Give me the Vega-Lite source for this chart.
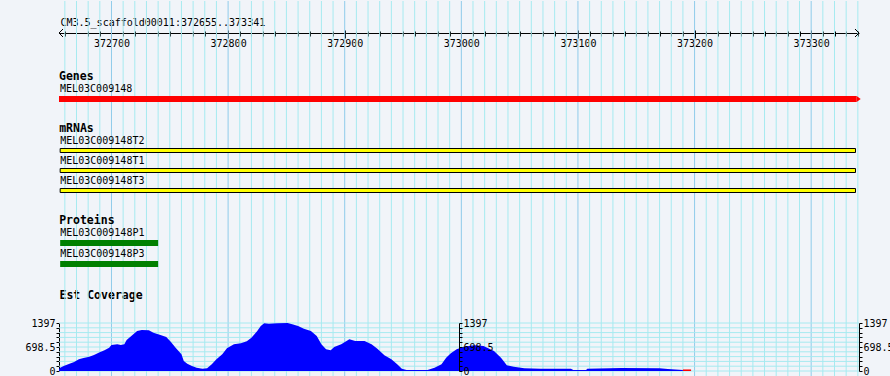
{
  "$schema": "https://vega.github.io/schema/vega-lite/v6.json",
  "background": "#F1F4F9",
  "padding": {"left": 24, "top": 0, "right": 0, "bottom": 0},
  "spacing": 0,
  "bounds": "flush",
  "config": {
    "view": {"stroke": null},
    "font": "DejaVu Sans Mono",
    "text": {"font": "DejaVu Sans Mono", "fontSize": 10, "color": "black"},
    "axis": {"labelFont": "DejaVu Sans Mono", "titleFont": "DejaVu Sans Mono", "labelColor": "black", "titleColor": "black"}
  },
  "datasets": {
    "grid": [
      {"pos": 372660}, {"pos": 372670}, {"pos": 372680}, {"pos": 372690}, {"pos": 372700}, {"pos": 372710}, {"pos": 372720}, {"pos": 372730}, {"pos": 372740}, {"pos": 372750},
      {"pos": 372760}, {"pos": 372770}, {"pos": 372780}, {"pos": 372790}, {"pos": 372800}, {"pos": 372810}, {"pos": 372820}, {"pos": 372830}, {"pos": 372840}, {"pos": 372850},
      {"pos": 372860}, {"pos": 372870}, {"pos": 372880}, {"pos": 372890}, {"pos": 372900}, {"pos": 372910}, {"pos": 372920}, {"pos": 372930}, {"pos": 372940}, {"pos": 372950},
      {"pos": 372960}, {"pos": 372970}, {"pos": 372980}, {"pos": 372990}, {"pos": 373000}, {"pos": 373010}, {"pos": 373020}, {"pos": 373030}, {"pos": 373040}, {"pos": 373050},
      {"pos": 373060}, {"pos": 373070}, {"pos": 373080}, {"pos": 373090}, {"pos": 373100}, {"pos": 373110}, {"pos": 373120}, {"pos": 373130}, {"pos": 373140}, {"pos": 373150},
      {"pos": 373160}, {"pos": 373170}, {"pos": 373180}, {"pos": 373190}, {"pos": 373200}, {"pos": 373210}, {"pos": 373220}, {"pos": 373230}, {"pos": 373240}, {"pos": 373250},
      {"pos": 373260}, {"pos": 373270}, {"pos": 373280}, {"pos": 373290}, {"pos": 373300}, {"pos": 373310}, {"pos": 373320}, {"pos": 373330}, {"pos": 373340}
    ],
    "ygrid": [
      {"v": 0}, {"v": 139.7}, {"v": 279.4}, {"v": 419.1}, {"v": 558.8}, {"v": 698.5}, {"v": 838.2}, {"v": 977.9}, {"v": 1117.6}, {"v": 1257.3}, {"v": 1397}
    ],
    "features": [
      {"track": "Genes", "name": "MEL03C009148", "start": 372655, "end": 373339},
      {"track": "mRNAs", "name": "MEL03C009148T2", "start": 372656, "end": 373338},
      {"track": "mRNAs", "name": "MEL03C009148T1", "start": 372656, "end": 373338},
      {"track": "mRNAs", "name": "MEL03C009148T3", "start": 372656, "end": 373338},
      {"track": "Proteins", "name": "MEL03C009148P1", "start": 372656, "end": 372740},
      {"track": "Proteins", "name": "MEL03C009148P3", "start": 372656, "end": 372740}
    ],
    "coverage": [
      {"pos": 372655, "cov": 49}, {"pos": 372656, "cov": 96}, {"pos": 372659, "cov": 146}, {"pos": 372664, "cov": 212},
      {"pos": 372668, "cov": 262}, {"pos": 372672, "cov": 341}, {"pos": 372676, "cov": 378}, {"pos": 372681, "cov": 416},
      {"pos": 372685, "cov": 466}, {"pos": 372689, "cov": 533}, {"pos": 372694, "cov": 602}, {"pos": 372698, "cov": 678},
      {"pos": 372700, "cov": 757}, {"pos": 372705, "cov": 777}, {"pos": 372708, "cov": 757}, {"pos": 372711, "cov": 777},
      {"pos": 372713, "cov": 902}, {"pos": 372718, "cov": 1048}, {"pos": 372722, "cov": 1164}, {"pos": 372726, "cov": 1193},
      {"pos": 372732, "cov": 1185}, {"pos": 372736, "cov": 1115}, {"pos": 372742, "cov": 1048}, {"pos": 372747, "cov": 990},
      {"pos": 372751, "cov": 844}, {"pos": 372755, "cov": 678}, {"pos": 372760, "cov": 486}, {"pos": 372762, "cov": 291},
      {"pos": 372765, "cov": 212}, {"pos": 372769, "cov": 146}, {"pos": 372773, "cov": 96}, {"pos": 372778, "cov": 67},
      {"pos": 372782, "cov": 79}, {"pos": 372786, "cov": 195}, {"pos": 372790, "cov": 341}, {"pos": 372795, "cov": 486},
      {"pos": 372799, "cov": 661}, {"pos": 372805, "cov": 777}, {"pos": 372811, "cov": 806}, {"pos": 372816, "cov": 864},
      {"pos": 372820, "cov": 969}, {"pos": 372825, "cov": 1164}, {"pos": 372828, "cov": 1310}, {"pos": 372831, "cov": 1390},
      {"pos": 372835, "cov": 1375}, {"pos": 372842, "cov": 1390}, {"pos": 372851, "cov": 1397}, {"pos": 372855, "cov": 1359},
      {"pos": 372860, "cov": 1310}, {"pos": 372865, "cov": 1231}, {"pos": 372871, "cov": 1164}, {"pos": 372876, "cov": 1019},
      {"pos": 372880, "cov": 777}, {"pos": 372884, "cov": 632}, {"pos": 372888, "cov": 602}, {"pos": 372891, "cov": 698},
      {"pos": 372897, "cov": 777}, {"pos": 372904, "cov": 923}, {"pos": 372909, "cov": 873}, {"pos": 372917, "cov": 873},
      {"pos": 372923, "cov": 777}, {"pos": 372928, "cov": 649}, {"pos": 372934, "cov": 457}, {"pos": 372940, "cov": 341},
      {"pos": 372945, "cov": 195}, {"pos": 372949, "cov": 67}, {"pos": 372953, "cov": 29}, {"pos": 372971, "cov": 29},
      {"pos": 372977, "cov": 96}, {"pos": 372983, "cov": 195}, {"pos": 372987, "cov": 387}, {"pos": 372991, "cov": 515},
      {"pos": 372996, "cov": 632}, {"pos": 373002, "cov": 707}, {"pos": 373011, "cov": 748}, {"pos": 373019, "cov": 728},
      {"pos": 373028, "cov": 582}, {"pos": 373034, "cov": 387}, {"pos": 373039, "cov": 166}, {"pos": 373045, "cov": 125},
      {"pos": 373054, "cov": 79}, {"pos": 373068, "cov": 67}, {"pos": 373094, "cov": 67}, {"pos": 373096, "cov": 29},
      {"pos": 373107, "cov": 29}, {"pos": 373108, "cov": 67}, {"pos": 373137, "cov": 87}, {"pos": 373170, "cov": 79},
      {"pos": 373177, "cov": 58}, {"pos": 373190, "cov": 29}
    ]
  },
  "vconcat": [
    {
      "width": 800, "height": 64,
      "layer": [
        {
          "data": {"name": "grid"},
          "mark": {"type": "rule", "strokeWidth": 1},
          "encoding": {
            "x": {"field": "pos", "type": "quantitative", "scale": {"domain": [372655, 373341], "nice": false, "zero": false},
              "axis": {
                "orient": "bottom", "offset": -32,
                "values": [372660,372670,372680,372690,372700,372710,372720,372730,372740,372750,372760,372770,372780,372790,372800,372810,372820,372830,372840,372850,372860,372870,372880,372890,372900,372910,372920,372930,372940,372950,372960,372970,372980,372990,373000,373010,373020,373030,373040,373050,373060,373070,373080,373090,373100,373110,373120,373130,373140,373150,373160,373170,373180,373190,373200,373210,373220,373230,373240,373250,373260,373270,373280,373290,373300,373310,373320,373330,373340],
                "format": "d",
                "labelExpr": "datum.value % 100 === 0 ? datum.label : ''",
                "labelOverlap": false, "labelFlush": false, "labelFontSize": 10, "labelPadding": 0,
                "tickColor": "black", "tickWidth": 1,
                "tickSize": {"condition": {"test": "datum.value % 100 === 0", "value": 5}, "value": 3},
                "domain": true, "domainColor": "black", "domainWidth": 1, "grid": false,
                "title": "CM3.5_scaffold00011:372655..373341",
                "titleX": 1, "titleY": -11, "titleAlign": "left", "titleAnchor": "start", "titleBaseline": "middle",
                "titleFontSize": 10, "titleFontWeight": "normal", "titlePadding": 0
              }
            },
            "color": {"condition": {"test": "datum.pos % 100 === 0", "value": "#8FCBEA"}, "value": "#A6EAF0"}
          }
        },
        {
          "data": {"values": [{"pos": 372655, "dir": "left"}, {"pos": 373341, "dir": "right"}]},
          "mark": {"type": "point", "filled": false, "color": "black", "strokeWidth": 1, "size": 64, "opacity": 1},
          "encoding": {
            "x": {"field": "pos", "type": "quantitative", "scale": {"domain": [372655, 373341], "nice": false, "zero": false},
              "axis": {
                "orient": "bottom", "offset": -32,
                "values": [372660,372670,372680,372690,372700,372710,372720,372730,372740,372750,372760,372770,372780,372790,372800,372810,372820,372830,372840,372850,372860,372870,372880,372890,372900,372910,372920,372930,372940,372950,372960,372970,372980,372990,373000,373010,373020,373030,373040,373050,373060,373070,373080,373090,373100,373110,373120,373130,373140,373150,373160,373170,373180,373190,373200,373210,373220,373230,373240,373250,373260,373270,373280,373290,373300,373310,373320,373330,373340],
                "labels": false, "domain": false, "grid": false, "title": null,
                "tickColor": "black", "tickWidth": 1,
                "tickSize": {"condition": {"test": "datum.value % 100 === 0", "value": -3}, "value": -2}
              }
            },
            "y": {"datum": "ruler", "type": "nominal", "scale": {"type": "point", "domain": ["ruler"]}, "axis": null},
            "shape": {"field": "dir", "type": "nominal", "scale": {"domain": ["left", "right"], "range": ["M1,-1L0,0L1,1", "M-1,-1L0,0L-1,1"]}, "legend": null}
          }
        }
      ],
      "resolve": {"axis": {"x": "independent"}}
    },
    {
      "width": 800, "height": 48,
      "layer": [
        {
          "data": {"name": "grid"},
          "mark": {"type": "rule", "strokeWidth": 1},
          "encoding": {
            "x": {"field": "pos", "type": "quantitative", "scale": {"domain": [372655, 373341], "nice": false, "zero": false}, "axis": null},
            "color": {"condition": {"test": "datum.pos % 100 === 0", "value": "#8FCBEA"}, "value": "#A6EAF0"}
          }
        },
        {
          "data": {"name": "features"},
          "transform": [{"filter": "datum.track === 'Genes'"}, {"aggregate": [{"op": "min", "field": "start", "as": "start"}], "groupby": ["track"]}],
          "mark": {"type": "text", "align": "left", "baseline": "middle", "fontWeight": "bold", "fontSize": 11.5, "yOffset": -2},
          "encoding": {
            "x": {"field": "start", "type": "quantitative", "scale": {"domain": [372655, 373341], "nice": false, "zero": false}, "axis": null},
            "y": {"field": "track", "type": "nominal", "scale": {"type": "band", "domain": ["Genes", "MEL03C009148"], "paddingInner": 0, "paddingOuter": 0.2}, "axis": null},
            "text": {"field": "track"}
          }
        },
        {
          "data": {"name": "features"},
          "transform": [{"filter": "datum.track === 'Genes'"}],
          "mark": {"type": "bar", "height": 6, "color": "#FF0000"},
          "encoding": {
            "x": {"field": "start", "type": "quantitative", "scale": {"domain": [372655, 373341], "nice": false, "zero": false}, "axis": null},
            "x2": {"field": "end"},
            "y": {"field": "name", "type": "nominal", "scale": {"type": "band", "domain": ["Genes", "MEL03C009148"], "paddingInner": 0, "paddingOuter": 0.2}, "axis": null}
          }
        },
        {
          "data": {"name": "features"},
          "transform": [{"filter": "datum.track === 'Genes'"}],
          "mark": {"type": "point", "filled": true, "color": "#FF0000", "opacity": 1, "size": 16, "shape": "M0,-1.5L2,0L0,1.5Z"},
          "encoding": {
            "x": {"field": "end", "type": "quantitative", "scale": {"domain": [372655, 373341], "nice": false, "zero": false}, "axis": null},
            "y": {"field": "name", "type": "nominal", "scale": {"type": "band", "domain": ["Genes", "MEL03C009148"], "paddingInner": 0, "paddingOuter": 0.2}, "axis": null}
          }
        },
        {
          "data": {"name": "features"},
          "transform": [{"filter": "datum.track === 'Genes'"}],
          "mark": {"type": "text", "align": "left", "baseline": "middle", "fontSize": 10, "yOffset": -10, "dx": 1},
          "encoding": {
            "x": {"field": "start", "type": "quantitative", "scale": {"domain": [372655, 373341], "nice": false, "zero": false}, "axis": null},
            "y": {"field": "name", "type": "nominal", "scale": {"type": "band", "domain": ["Genes", "MEL03C009148"], "paddingInner": 0, "paddingOuter": 0.2}, "axis": null},
            "text": {"field": "name"}
          }
        }
      ]
    },
    {
      "width": 800, "height": 95,
      "layer": [
        {
          "data": {"name": "grid"},
          "mark": {"type": "rule", "strokeWidth": 1},
          "encoding": {
            "x": {"field": "pos", "type": "quantitative", "scale": {"domain": [372655, 373341], "nice": false, "zero": false}, "axis": null},
            "color": {"condition": {"test": "datum.pos % 100 === 0", "value": "#8FCBEA"}, "value": "#A6EAF0"}
          }
        },
        {
          "data": {"name": "features"},
          "transform": [{"filter": "datum.track === 'mRNAs'"}, {"aggregate": [{"op": "min", "field": "start", "as": "start"}], "groupby": ["track"]}],
          "mark": {"type": "text", "align": "left", "baseline": "middle", "fontWeight": "bold", "fontSize": 11.5, "yOffset": -2, "dx": -1},
          "encoding": {
            "x": {"field": "start", "type": "quantitative", "scale": {"domain": [372655, 373341], "nice": false, "zero": false}, "axis": null},
            "y": {"field": "track", "type": "nominal", "scale": {"type": "band", "domain": ["mRNAs", "MEL03C009148T2", "MEL03C009148T1", "MEL03C009148T3"], "paddingInner": 0, "paddingOuter": 0.375}, "axis": null},
            "text": {"field": "track"}
          }
        },
        {
          "data": {"name": "features"},
          "transform": [{"filter": "datum.track === 'mRNAs'"}],
          "mark": {"type": "bar", "height": 4, "fill": "#FFFF00", "stroke": "black", "strokeWidth": 1},
          "encoding": {
            "x": {"field": "start", "type": "quantitative", "scale": {"domain": [372655, 373341], "nice": false, "zero": false}, "axis": null},
            "x2": {"field": "end"},
            "y": {"field": "name", "type": "nominal", "scale": {"type": "band", "domain": ["mRNAs", "MEL03C009148T2", "MEL03C009148T1", "MEL03C009148T3"], "paddingInner": 0, "paddingOuter": 0.375}, "axis": null}
          }
        },
        {
          "data": {"name": "features"},
          "transform": [{"filter": "datum.track === 'mRNAs'"}],
          "mark": {"type": "text", "align": "left", "baseline": "middle", "fontSize": 10, "yOffset": -9.5, "dx": 0},
          "encoding": {
            "x": {"field": "start", "type": "quantitative", "scale": {"domain": [372655, 373341], "nice": false, "zero": false}, "axis": null},
            "y": {"field": "name", "type": "nominal", "scale": {"type": "band", "domain": ["mRNAs", "MEL03C009148T2", "MEL03C009148T1", "MEL03C009148T3"], "paddingInner": 0, "paddingOuter": 0.375}, "axis": null},
            "text": {"field": "name"}
          }
        }
      ]
    },
    {
      "width": 800, "height": 70,
      "layer": [
        {
          "data": {"name": "grid"},
          "mark": {"type": "rule", "strokeWidth": 1},
          "encoding": {
            "x": {"field": "pos", "type": "quantitative", "scale": {"domain": [372655, 373341], "nice": false, "zero": false}, "axis": null},
            "color": {"condition": {"test": "datum.pos % 100 === 0", "value": "#8FCBEA"}, "value": "#A6EAF0"}
          }
        },
        {
          "data": {"name": "features"},
          "transform": [{"filter": "datum.track === 'Proteins'"}, {"aggregate": [{"op": "min", "field": "start", "as": "start"}], "groupby": ["track"]}],
          "mark": {"type": "text", "align": "left", "baseline": "middle", "fontWeight": "bold", "fontSize": 11.5, "yOffset": -1, "dx": -1},
          "encoding": {
            "x": {"field": "start", "type": "quantitative", "scale": {"domain": [372655, 373341], "nice": false, "zero": false}, "axis": null},
            "y": {"field": "track", "type": "nominal", "scale": {"type": "band", "domain": ["Proteins", "MEL03C009148P1", "MEL03C009148P3"], "paddingInner": 0, "paddingOuter": 0.16667}, "axis": null},
            "text": {"field": "track"}
          }
        },
        {
          "data": {"name": "features"},
          "transform": [{"filter": "datum.track === 'Proteins'"}],
          "mark": {"type": "bar", "height": 6, "color": "#008000"},
          "encoding": {
            "x": {"field": "start", "type": "quantitative", "scale": {"domain": [372655, 373341], "nice": false, "zero": false}, "axis": null},
            "x2": {"field": "end"},
            "y": {"field": "name", "type": "nominal", "scale": {"type": "band", "domain": ["Proteins", "MEL03C009148P1", "MEL03C009148P3"], "paddingInner": 0, "paddingOuter": 0.16667}, "axis": null}
          }
        },
        {
          "data": {"name": "features"},
          "transform": [{"filter": "datum.track === 'Proteins'"}],
          "mark": {"type": "text", "align": "left", "baseline": "middle", "fontSize": 10, "yOffset": -10, "dx": 0},
          "encoding": {
            "x": {"field": "start", "type": "quantitative", "scale": {"domain": [372655, 373341], "nice": false, "zero": false}, "axis": null},
            "y": {"field": "name", "type": "nominal", "scale": {"type": "band", "domain": ["Proteins", "MEL03C009148P1", "MEL03C009148P3"], "paddingInner": 0, "paddingOuter": 0.16667}, "axis": null},
            "text": {"field": "name"}
          }
        }
      ]
    },
    {
      "width": 800, "height": 99,
      "layer": [
        {
          "data": {"name": "grid"},
          "mark": {"type": "rule", "strokeWidth": 1},
          "encoding": {
            "x": {"field": "pos", "type": "quantitative", "scale": {"domain": [372655, 373341], "nice": false, "zero": false},
              "axis": {"orient": "top", "offset": -17, "domain": false, "ticks": false, "labels": false, "grid": false,
                "title": "Est Coverage", "titleX": 0, "titleY": 0, "titleAlign": "left", "titleAnchor": "start", "titleBaseline": "middle",
                "titleFontWeight": "bold", "titleFontSize": 11.5, "titlePadding": 0}
            },
            "color": {"condition": {"test": "datum.pos % 100 === 0", "value": "#8FCBEA"}, "value": "#A6EAF0"}
          }
        },
        {
          "data": {"name": "ygrid"},
          "mark": {"type": "rule", "strokeWidth": 1, "color": "#A6EAF0"},
          "encoding": {
            "y": {"field": "v", "type": "quantitative", "scale": {"domain": [0, 1397], "range": [93, 45], "nice": false, "zero": true},
              "axis": {"orient": "right", "offset": -400, "zindex": 1, "values": [0, 139.7, 279.4, 419.1, 558.8, 698.5, 838.2, 977.9, 1117.6, 1257.3, 1397],
                "labelExpr": "indexof([0, 698.5, 1397], datum.value) >= 0 ? '' + datum.value : ''",
                "labelOverlap": false, "labelFontSize": 10, "labelPadding": 1, "labelBaseline": "middle", "tickSize": 3, "tickColor": "black", "domainColor": "black", "grid": false, "title": null}
            }
          }
        },
        {
          "data": {"name": "coverage"},
          "mark": {"type": "area", "color": "#0000FF", "interpolate": "linear"},
          "encoding": {
            "x": {"field": "pos", "type": "quantitative", "scale": {"domain": [372655, 373341], "nice": false, "zero": false}, "axis": null},
            "y": {"field": "cov", "type": "quantitative", "scale": {"domain": [0, 1397], "range": [93, 45], "nice": false, "zero": true},
              "axis": {"orient": "left", "values": [0, 139.7, 279.4, 419.1, 558.8, 698.5, 838.2, 977.9, 1117.6, 1257.3, 1397],
                "labelExpr": "indexof([0, 698.5, 1397], datum.value) >= 0 ? '' + datum.value : ''",
                "labelOverlap": false, "labelFontSize": 10, "labelPadding": 1, "labelBaseline": "middle", "tickSize": 3, "tickColor": "black", "domainColor": "black", "grid": false, "title": null}
            },
            "y2": {"datum": 0}
          }
        },
        {
          "data": {"values": [{"start": 373190, "end": 373197, "cov": 45}]},
          "mark": {"type": "bar", "color": "#FF0000"},
          "encoding": {
            "x": {"field": "start", "type": "quantitative", "scale": {"domain": [372655, 373341], "nice": false, "zero": false}, "axis": null},
            "x2": {"field": "end"},
            "y": {"field": "cov", "type": "quantitative", "scale": {"domain": [0, 1397], "range": [93, 45], "nice": false, "zero": true},
              "axis": {"orient": "right", "values": [0, 139.7, 279.4, 419.1, 558.8, 698.5, 838.2, 977.9, 1117.6, 1257.3, 1397],
                "labelExpr": "indexof([0, 698.5, 1397], datum.value) >= 0 ? '' + datum.value : ''",
                "labelOverlap": false, "labelFontSize": 10, "labelPadding": 1, "labelBaseline": "middle", "tickSize": 3, "tickColor": "black", "domainColor": "black", "grid": false, "title": null}
            },
            "y2": {"datum": 0}
          }
        }
      ],
      "resolve": {"axis": {"x": "independent", "y": "independent"}}
    }
  ]
}
